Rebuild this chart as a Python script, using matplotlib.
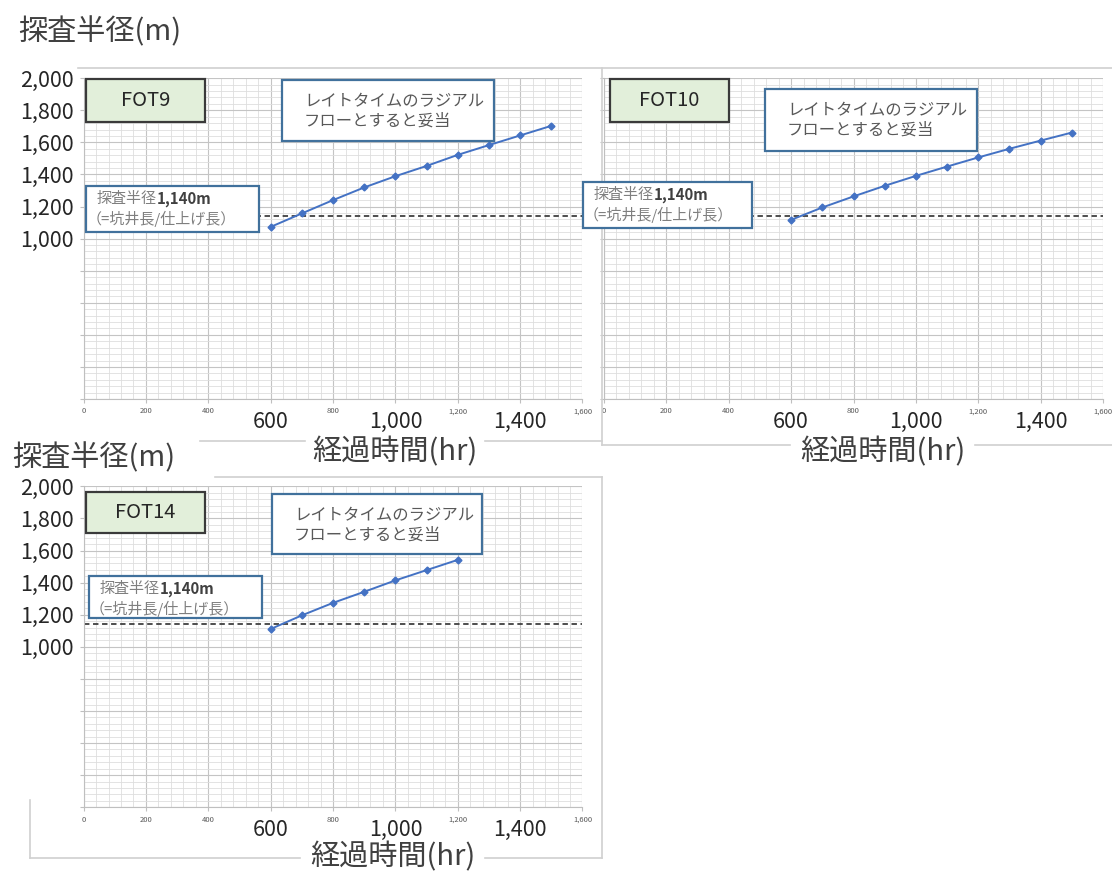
import matplotlib
matplotlib.use("Agg")
import matplotlib.pyplot as plt
from matplotlib.patches import Rectangle
from matplotlib.lines import Line2D

plt.rcParams['font.family'] = ['Noto Sans CJK JP', 'DejaVu Sans']

W, H = 1112, 872

# 経過時間(hr) と 探査半径(m)
hours_fot9 = [600, 700, 800, 900, 1000, 1100, 1200, 1300, 1400, 1500]
radius_fot9 = [1073, 1157, 1240, 1319, 1389, 1453, 1522, 1583, 1643, 1703]
hours_fot10 = [600, 700, 800, 900, 1000, 1100, 1200, 1300, 1400, 1500]
radius_fot10 = [1117, 1194, 1263, 1329, 1391, 1449, 1506, 1560, 1611, 1661]
hours_fot14 = [600, 700, 800, 900, 1000, 1100, 1200]
radius_fot14 = [1111, 1196, 1274, 1343, 1414, 1478, 1542]
target_radius = 1140

x_major = [0, 200, 400, 600, 800, 1000, 1200, 1400, 1600]
y_major = [0, 200, 400, 600, 800, 1000, 1200, 1400, 1600, 1800, 2000]
small_xlabels = ["0", "200", "400", "", "800", "", "1,200", "", "1,600"]
big_xticks = [600, 1000, 1400]
big_xlabels = ["600", "1,000", "1,400"]
ylabels = ["", "", "", "", "", "1,000", "1,200", "1,400", "1,600", "1,800", "2,000"]

LINE = "#4472C4"
FRAME = "#D0D0D0"
BOXEDGE = "#41719C"
TXT = "#404040"

fig = plt.figure(figsize=(W / 100, H / 100), dpi=100)


def px_axes(l, t, r, b):
    return fig.add_axes([l / W, 1 - b / H, (r - l) / W, (b - t) / H])


def ftext(x, y, s, **kw):
    return fig.text(x / W, 1 - y / H, s, **kw)


def seg(x0, y0, x1, y1):
    fig.add_artist(Line2D([x0 / W, x1 / W], [1 - y0 / H, 1 - y1 / H],
                          transform=fig.transFigure, color=FRAME, lw=1.2))


def box(l, t, r, b, face, edge, lw=1.6):
    fig.add_artist(Rectangle((l / W, 1 - b / H), (r - l) / W, (b - t) / H,
                             transform=fig.transFigure, facecolor=face,
                             edgecolor=edge, linewidth=lw, zorder=5))


def draw_panel(ax, hours, radius, show_y):
    ax.set_xlim(0, 1600)
    ax.set_ylim(0, 2000)
    ax.set_xticks(x_major)
    ax.set_xticklabels(small_xlabels, fontsize=5.5, color="#595959")
    ax.set_xticks(list(range(0, 1601, 40)), minor=True)
    ax.set_yticks(y_major)
    ax.set_yticklabels(ylabels if show_y else [""] * len(y_major),
                       fontsize=15.5, color="#262626")
    ax.set_yticks(list(range(0, 2001, 40)), minor=True)
    ax.tick_params(which="minor", length=0)
    ax.tick_params(axis="x", which="major", length=3, pad=3, color="#BFBFBF")
    ax.tick_params(axis="y", which="major", length=3, pad=4, color="#BFBFBF")
    ax.grid(which="major", color="#C4C4C4", lw=0.8)
    ax.grid(which="minor", color="#DEDEDE", lw=0.6)
    ax.set_axisbelow(True)
    for s in ["top", "right"]:
        ax.spines[s].set_visible(False)
    for s in ["left", "bottom"]:
        ax.spines[s].set_color("#BFBFBF")
    ax.axhline(target_radius, color="#404040", lw=1.3, ls=(0, (3, 2)), zorder=2)
    ax.plot(hours, radius, "-", color=LINE, lw=1.4, marker="D", ms=3.5, zorder=3)
    for xv, lab in zip(big_xticks, big_xlabels):
        ax.text(xv, -0.072, lab, transform=ax.get_xaxis_transform(),
                ha="center", va="center", fontsize=15.5, color="#262626")


def annotations(fot, fot_box, late_box, r_box):
    l, t, r, b = fot_box
    box(l, t, r, b, "#E2EFDA", "#3A3A3A", 1.6)
    ftext((l + r) / 2, (t + b) / 2, fot, ha="center", va="center",
          fontsize=14.5, color="#262626", zorder=6)
    l, t, r, b = late_box
    box(l, t, r, b, "white", BOXEDGE)
    ftext(l + 22, t + 22, "レイトタイムのラジアル", va="center", fontsize=11.8,
          color="#595959", zorder=6)
    ftext(l + 22, t + 41, "フローとすると妥当", va="center", fontsize=11.8,
          color="#595959", zorder=6)
    l, t, r, b = r_box
    box(l, t, r, b, "white", BOXEDGE)
    t1 = ftext(l + 11, t + 13, "探査半径", va="center", fontsize=10.8,
               color="#7F7F7F", zorder=6)
    fig.canvas.draw()
    ext = t1.get_window_extent()
    fig.text(ext.x1 / W, 1 - (t + 13) / H, "1,140m", va="center",
             fontsize=10.8, fontweight="bold", color="#404040", zorder=6)
    ftext(l + 1, t + 33, "（=坑井長/仕上げ長）", va="center", fontsize=10.8,
          color="#7F7F7F", zorder=6)


ax1 = px_axes(83.6, 78.2, 582.5, 399)
ax2 = px_axes(604, 78.2, 1103, 399)
ax3 = px_axes(83.6, 486.4, 582.5, 807.2)
draw_panel(ax1, hours_fot9, radius_fot9, True)
draw_panel(ax2, hours_fot10, radius_fot10, False)
draw_panel(ax3, hours_fot14, radius_fot14, True)

# 枠線
seg(78, 68, 1112, 68)
seg(602, 68, 602, 445)
seg(200, 441, 305, 441)
seg(485, 441, 602, 441)
seg(602, 445, 790, 445)
seg(975, 445, 1112, 445)
seg(215, 477, 602, 477)
seg(602, 477, 602, 858)
seg(30, 858, 300, 858)
seg(485, 858, 602, 858)
seg(30, 800, 30, 858)

annotations("FOT9", (86, 79, 205, 122), (282, 80, 494, 141), (86, 186, 259, 232))
annotations("FOT10", (610, 79, 729, 122), (765, 89, 977, 151), (583, 182, 752, 228))
annotations("FOT14", (86, 492, 205, 533), (272, 494, 482, 554), (89, 576, 262, 618))

# 軸ラベル
lab_kw = dict(va="center", fontsize=21, color=TXT)
ftext(18, 32, "探査半径(m)", ha="left", **lab_kw)
ftext(12, 458, "探査半径(m)", ha="left", **lab_kw)
ftext(395, 452, "経過時間(hr)", ha="center", **lab_kw)
ftext(883, 452, "経過時間(hr)", ha="center", **lab_kw)
ftext(393, 857, "経過時間(hr)", ha="center",
      bbox=dict(facecolor="white", edgecolor="none", pad=1), **lab_kw)

fig.savefig("out.png", dpi=100, facecolor="white")
